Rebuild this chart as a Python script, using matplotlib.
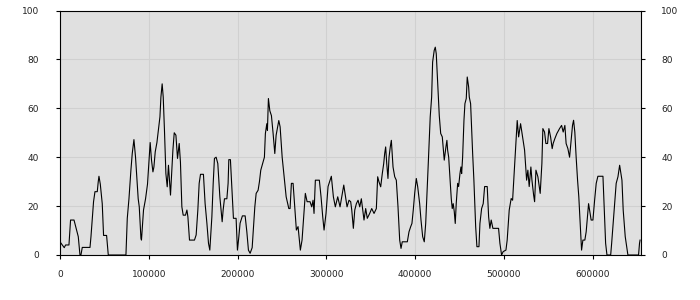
import matplotlib
matplotlib.use('Agg')
import matplotlib.pyplot as plt

# x positions (in thousands) and values
x_k = [0, 4.8, 6.3, 10.1, 11.9, 15.8, 18.7, 20.6, 22.5, 23.6, 25.1, 33.8, 34.9, 37.8, 39.4,
       42.0, 43.1, 43.9, 45.4, 47.6, 49.1, 52.5, 54.4, 74.3, 75.8, 77.7, 79.9, 81.4, 83.3,
       85.1, 86.7, 88.1, 89.3, 91.2, 91.8, 94.1, 96.4, 98.6, 100.5, 101.6, 103.1, 104.7, 105.8,
       107.3, 109.2, 111.0, 112.6, 113.7, 115.1, 116.3, 117.7, 119.3, 120.8, 122.2, 124.5,
       127.2, 128.7, 130.6, 132.4, 134.3, 135.7, 137.3, 138.8, 141.4, 143.0, 144.1, 145.9,
       151.5, 153.4, 155.3, 156.8, 158.3, 161.6, 163.5, 165.5, 167.3, 168.8, 171.1, 172.6,
       174.0, 175.9, 177.8, 180.1, 182.7, 183.8, 185.3, 188.0, 189.4, 190.2, 192.0, 193.6,
       195.4, 198.4, 199.9, 201.5, 202.9, 205.5, 208.6, 210.5, 212.3, 214.2,
       216.5, 219.5, 221.0, 223.2, 224.7, 226.2, 228.5, 230.3, 231.4, 233.0, 233.7, 234.8,
       236.4, 238.2, 240.1, 242.0, 243.5, 246.5, 248.0, 250.3, 252.5, 254.8, 257.8, 259.2,
       260.7, 262.6, 264.5, 266.3, 268.2, 270.8, 272.7, 274.6, 276.4, 278.4, 281.7, 283.6,
       285.1, 286.2, 287.7, 292.2, 294.1, 296.0, 297.5, 299.7, 302.0, 305.7, 308.0, 310.2,
       312.9, 315.5, 319.7, 323.4,
       325.6, 327.5, 328.7, 330.5, 332.1, 333.9, 335.8, 337.7, 339.5, 341.1, 342.5, 344.4,
       346.2, 348.9, 351.2, 353.8, 356.4, 357.9, 359.4, 361.3, 363.1, 364.7, 365.8, 366.9,
       368.1, 369.5, 370.7, 372.1, 373.3, 375.2, 377.1, 378.9, 380.8, 382.7, 384.2, 385.6,
       391.3, 393.2, 395.1, 396.5, 398.0, 399.6, 401.4, 403.0, 405.2, 406.7, 408.6, 410.4,
       412.0, 413.4, 414.9, 417.1, 418.7, 419.8, 421.6, 422.8, 423.9, 425.8, 427.3, 428.9,
       430.7, 432.9,
       434.8, 435.9, 436.7, 437.9, 439.3, 440.8, 441.9, 443.0, 444.2, 445.3, 446.4, 448.0,
       449.1, 450.6, 451.7, 452.5, 453.6, 455.1, 456.2, 457.7, 458.8, 460.4, 461.1, 462.6,
       464.9, 466.3, 468.3, 469.7, 472.0, 473.1, 475.0, 476.8, 478.4, 481.3, 482.9, 484.3,
       485.8, 487.7, 494.1, 495.6, 497.5, 499.3, 502.4, 503.8, 506.1, 508.3, 509.9, 512.1,
       513.6, 515.1, 516.7, 518.9, 521.2, 523.4, 525.7, 527.1, 528.6, 530.5, 531.7, 533.6,
       534.7, 536.2, 538.4, 541.0, 542.9,
       544.0, 545.9, 547.4, 549.3, 550.8, 552.7, 554.5, 555.6, 557.5, 559.8, 562.8, 565.1,
       566.9, 568.8, 570.2, 572.2, 574.1, 575.5, 577.4, 578.6, 580.0, 581.5, 583.1, 584.5,
       586.0, 587.6, 589.1, 591.3, 592.8, 595.5, 598.4, 600.4, 602.3, 604.1, 606.0, 611.7,
       613.2, 614.7, 616.2, 620.4, 621.5, 623.7, 626.6, 628.6, 630.5, 633.1, 634.5, 636.8,
       639.8, 651.8, 652.9, 653.5]

values = [5.4, 3.0, 4.1, 4.1, 14.3, 14.3, 10.2, 7.5, 0, 0, 3.1, 3.1, 7.5, 21.8, 25.9,
          25.9, 30.0, 32.2, 29.0, 21.0, 8.0, 8.0, 0, 0, 15.0, 23.0, 34.7, 41.5, 47.2,
          40.0, 30.6, 23.0, 19.7, 6.8, 6.1, 18.4, 23.0, 29.0, 40.0, 46.0, 38.8, 34.0, 36.0,
          42.2, 46.0, 51.7, 56.5, 64.6, 70.0, 64.6, 51.0, 33.3, 27.9, 36.7, 24.5,
          42.9, 50.0, 49.0, 39.5, 45.6, 38.0, 19.7, 16.3, 16.3, 18.4, 15.6, 6.1,
          6.1, 8.2, 18.4, 29.3, 33.0, 33.0, 21.0, 13.0, 4.8, 2.0, 15.6, 29.3,
          39.5, 40.0, 37.4, 23.8, 13.6, 18.4, 23.0, 23.0, 29.3, 39.0, 39.0, 28.0,
          15.0, 15.0, 2.0, 7.5, 13.0, 16.0, 16.0, 9.5, 2.0, 0.7,
          3.0, 19.7, 25.2, 26.5, 30.0, 34.7, 37.7, 40.0, 49.7, 53.7, 51.0, 64.0,
          59.0, 57.0, 49.7, 41.5, 49.0, 55.0, 52.4, 40.0, 32.0, 23.8, 19.0, 19.0,
          29.3, 29.3, 19.7, 10.2, 11.6, 2.0, 6.1, 15.6, 25.2, 21.8, 21.8, 19.7,
          22.4, 17.0, 30.6, 30.6, 23.8, 15.6, 10.2, 17.0, 28.0, 32.2, 23.8, 19.7,
          23.8, 19.7, 28.6, 19.7,
          22.4, 21.8, 18.4, 10.9, 18.4, 21.0, 22.4, 19.7, 23.0, 18.4, 14.3, 19.0,
          15.0, 17.0, 19.0, 17.0, 19.0, 32.0, 29.9, 27.9, 33.3, 37.4, 41.5, 44.2,
          37.4, 31.3, 40.0, 44.2, 46.9, 36.0, 32.0, 30.6, 19.7, 6.1, 2.7, 5.4,
          5.4, 9.5, 11.6, 12.9, 18.4, 25.2, 31.3, 27.9, 21.0, 14.3, 7.5, 5.4,
          12.9, 25.2, 37.4, 56.5, 64.6, 78.9, 83.7, 85.0, 82.3, 68.0, 57.0, 49.7,
          48.3, 38.8,
          44.2, 46.9, 42.9, 40.0, 32.0, 23.1, 19.0, 21.0, 17.7, 12.9, 21.0, 29.3,
          28.0, 33.3, 36.0, 33.3, 40.0, 55.0, 61.9, 64.0, 72.8, 68.7, 64.6, 61.9,
          41.5, 30.6, 11.6, 3.4, 3.4, 12.9, 19.0, 21.0, 28.0, 28.0, 15.6, 10.9,
          14.3, 10.9, 10.9, 4.8, 0, 1.4, 2.0, 6.1, 18.4, 23.1, 22.4, 36.0,
          45.6, 55.0, 48.3, 53.7, 48.3, 42.9, 30.6, 34.7, 28.0, 36.0, 30.6, 24.5,
          21.8, 34.7, 32.0, 25.2, 37.4,
          51.7, 50.3, 45.6, 45.6, 51.7, 48.3, 43.5, 45.6, 47.6, 49.7, 51.7, 53.0,
          50.3, 53.0, 45.6, 43.5, 40.0, 45.6, 53.0, 55.1, 50.3, 40.0, 30.6, 23.8,
          12.9, 2.0, 6.1, 6.1, 9.5, 21.0, 14.3, 14.3, 22.4, 29.3, 32.2, 32.2,
          18.4, 4.8, 0, 0, 4.8, 15.6, 29.3, 32.0, 36.7, 30.6, 18.4, 7.5,
          0, 0, 4.8, 6.1]

x_ticks = [0, 100000, 200000, 300000, 400000, 500000, 600000]
y_ticks = [0, 20, 40, 60, 80, 100]

fig = plt.figure(figsize=(7, 3), dpi=100)
ax = fig.add_axes([0.0857, 0.15, 0.8293, 0.815])
ax.set_facecolor('#e0e0e0')

ax.plot([v * 1000 for v in x_k], values, color='black', linewidth=0.8)

ax.set_xlim(0, 654000)
ax.set_ylim(0, 100)
ax.set_xticks(x_ticks)
ax.set_xticklabels([str(t) for t in x_ticks])
ax.set_yticks(y_ticks)
ax.grid(True, color='#d0d0d0', linewidth=0.8)
ax.set_axisbelow(True)

for s in ax.spines.values():
    s.set_color('black')
    s.set_linewidth(0.8)

ax.tick_params(axis='y', left=True, right=True, labelleft=True, labelright=True,
               length=3, width=0.8, pad=12, labelsize=6.5, labelcolor='#222222')
ax.tick_params(axis='x', length=3, width=0.8, pad=8, labelsize=6.5, labelcolor='#222222')

fig.savefig('out.png', dpi=100)
